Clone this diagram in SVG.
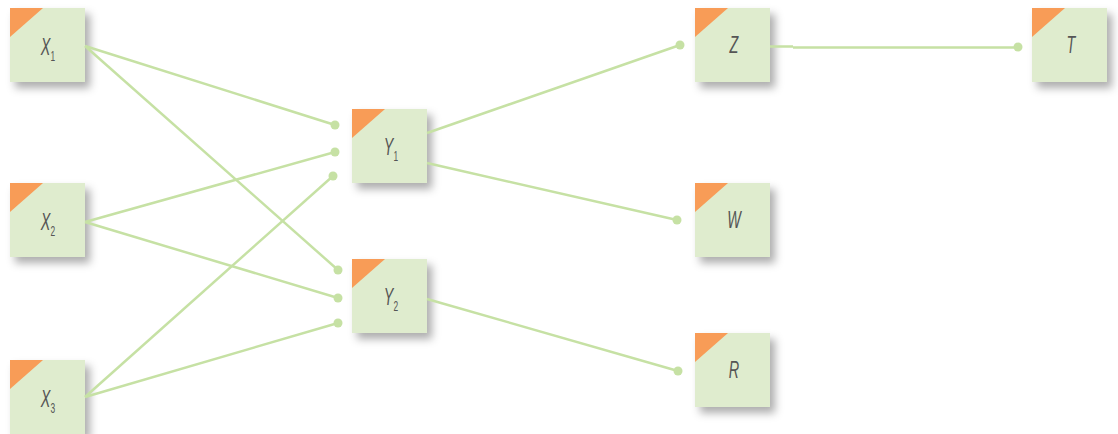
<svg xmlns="http://www.w3.org/2000/svg" width="1118" height="434" viewBox="0 0 1118 434">
<defs>
<filter id="sh" x="-20%" y="-20%" width="160%" height="160%">
<feDropShadow dx="5" dy="6" stdDeviation="4" flood-color="#000" flood-opacity="0.32"/>
</filter>
<symbol id="box" overflow="visible">
<rect x="0" y="0" width="75" height="74" class="bx" filter="url(#sh)"/>
<polygon points="0,0 33,0 0,29" class="cn"/>
</symbol>
</defs>
<style>
.bx{fill:#dfecce}
.cn{fill:#f89c57}
.lb{font-family:"Liberation Sans","DejaVu Sans",sans-serif;font-style:italic;font-size:24px;fill:#555;text-anchor:middle}
.sb{font-size:14px;font-style:normal}
.ln{stroke:#c6e1a4;stroke-width:2.5;fill:none}
.dt{fill:#c6e1a4}
</style>
<rect width="1118" height="434" fill="#fff"/>
<g id="X1"><use href="#box" x="10" y="8"/><text class="lb" transform="translate(48,55) scale(0.6,1)">X<tspan class="sb" dy="6">1</tspan></text></g>
<g id="X2"><use href="#box" x="10" y="183"/><text class="lb" transform="translate(48,230) scale(0.6,1)">X<tspan class="sb" dy="6">2</tspan></text></g>
<g id="X3"><use href="#box" x="10" y="360"/><text class="lb" transform="translate(48,407) scale(0.6,1)">X<tspan class="sb" dy="6">3</tspan></text></g>
<g id="Y1"><use href="#box" x="352" y="109"/><text class="lb" transform="translate(391,155) scale(0.6,1)">Y<tspan class="sb" dy="6">1</tspan></text></g>
<g id="Y2"><use href="#box" x="352" y="259"/><text class="lb" transform="translate(391,305) scale(0.6,1)">Y<tspan class="sb" dy="6">2</tspan></text></g>
<g id="Z"><use href="#box" x="695" y="8"/><text class="lb" transform="translate(734,53) scale(0.6,1)">Z</text></g>
<g id="W"><use href="#box" x="695" y="183"/><text class="lb" transform="translate(734,228) scale(0.6,1)">W</text></g>
<g id="R"><use href="#box" x="695" y="333"/><text class="lb" transform="translate(734,378) scale(0.6,1)">R</text></g>
<g id="T"><use href="#box" x="1032" y="8"/><text class="lb" transform="translate(1071,53) scale(0.6,1)">T</text></g>
<g id="connectors">
<path class="ln" d="M85 46 L335 125"/><circle class="dt" cx="335" cy="125" r="4.5"/>
<path class="ln" d="M85 46 L338 270"/><circle class="dt" cx="338" cy="270" r="4.5"/>
<path class="ln" d="M85 222 L335 152"/><circle class="dt" cx="335" cy="152" r="4.5"/>
<path class="ln" d="M85 222 L338 298"/><circle class="dt" cx="338" cy="298" r="4.5"/>
<path class="ln" d="M85 397 L333 176"/><circle class="dt" cx="333" cy="176" r="4.5"/>
<path class="ln" d="M85 397 L338 323"/><circle class="dt" cx="338" cy="323" r="4.5"/>
<path class="ln" d="M427 133 L680 45"/><circle class="dt" cx="680" cy="45" r="4.5"/>
<path class="ln" d="M427 163 L677 220"/><circle class="dt" cx="677" cy="220" r="4.5"/>
<path class="ln" d="M427 299 L678 371"/><circle class="dt" cx="678" cy="371" r="4.5"/>
<path class="ln" d="M770 46.5 L793 46.5 M793 47.5 L1018 47.5"/><circle class="dt" cx="1018" cy="47" r="4.5"/>
</g>
</svg>
